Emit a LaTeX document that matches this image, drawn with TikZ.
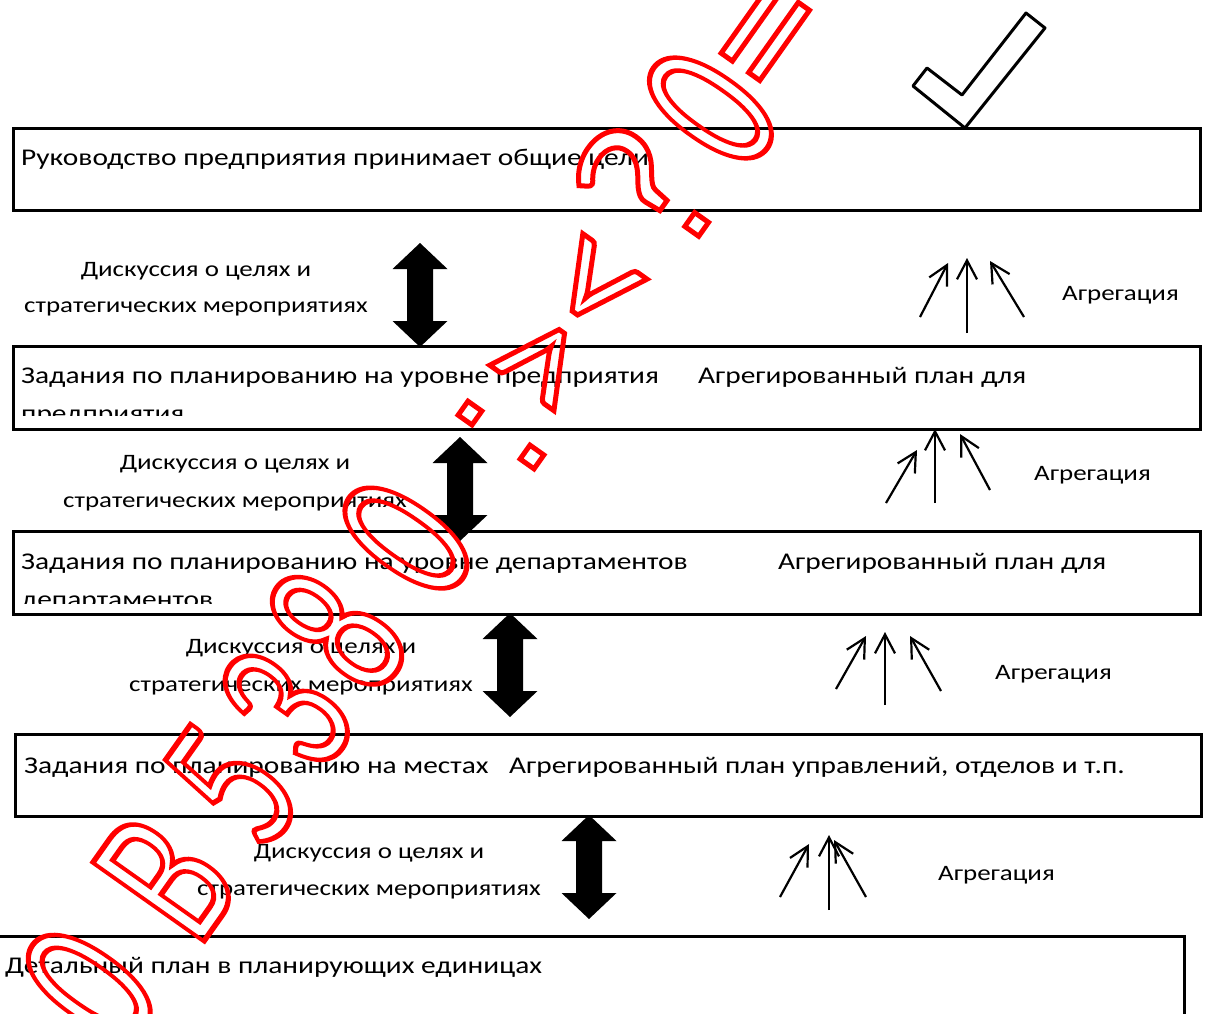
\documentclass[tikz,border=0pt]{standalone}
\usepackage{fontspec}
\setmainfont{Carlito}[FakeStretch=1.225]
\newfontfamily\wmfont{Carlito}
\usetikzlibrary{arrows.meta}

% outlined glyph: stroke only (PDF text render mode 1)
\newcommand\wmglyph[1]{\special{pdf:literal direct 1 Tr 5 w 1 0 0 RG}#1\special{pdf:literal direct 0 Tr}}
% narrow outlined glyph for letters and digits
\newcommand\wmnarrow[1]{\scalebox{0.7}[1]{\special{pdf:literal direct 1 Tr 5.5 w 1 0 0 RG}#1\special{pdf:literal direct 0 Tr}}}

\tikzset{
  box/.style={draw=black, line width=3bp, inner sep=0pt, anchor=north west},
  txt/.style={anchor=base west, inner sep=0pt, font=\fontsize{24bp}{28bp}\selectfont},
  lbl/.style={anchor=base, inner sep=0pt, font=\fontsize{22bp}{26bp}\selectfont},
  agglbl/.style={anchor=base west, inner sep=0pt, font=\fontsize{22bp}{26bp}\selectfont},
  agg/.style={line width=2.2bp, -{Straight Barb[length=19bp,width=20bp]}},
  dblarrow/.pic={\fill[black] (0,-52) -- (27.5,-26) -- (13,-26) -- (13,26) -- (27.5,26)
      -- (0,52) -- (-27.5,26) -- (-13,26) -- (-13,-26) -- (-27.5,-26) -- cycle;},
  wm/.style={anchor=base, inner sep=0pt, text=red, transform shape,
      font=\wmfont\fontsize{212bp}{212bp}\selectfont},
  wmsmall/.style={wm, font=\wmfont\fontsize{190bp}{190bp}\selectfont},
  wmdot/.style={draw=red, line width=5bp},
}

\begin{document}
\begin{tikzpicture}[x=1bp, y=-1bp]
\useasboundingbox (0,0) rectangle (1206,1014);
\clip (0,0) rectangle (1206,1014);

% planning levels
\node[box, minimum width=1187bp, minimum height=82bp] (b1) at (12,127) {};
\node[box, minimum width=1187bp, minimum height=83bp] (b2) at (12,345) {};
\node[box, minimum width=1187bp, minimum height=83bp] (b3) at (12,530) {};
\node[box, minimum width=1186bp, minimum height=82bp] (b4) at (14,733) {};
\node[box, minimum width=1193bp, minimum height=100bp] (b5) at (-10,935) {};

\node[txt] (t1) at (21,165) {Руководство предприятия принимает общие цели};
\node[txt] (t2a) at (21,383) {Задания по планированию на уровне предприятия};
\node[txt] (t2b) at (698,383) {Агрегированный план для};
\begin{scope}
  \clip (12,345) rectangle (1199,415);
  \node[txt] (t2c) at (21,421) {предприятия};
\end{scope}
\node[txt] (t3a) at (21,569) {Задания по планированию на уровне департаментов};
\node[txt] (t3b) at (778,569) {Агрегированный план для};
\begin{scope}
  \clip (12,530) rectangle (1199,603);
  \node[txt] (t3c) at (21,607) {департаментов};
\end{scope}
\node[txt] (t4a) at (24,773) {Задания по планированию на местах};
\node[txt] (t4b) at (509,773) {Агрегированный план управлений, отделов и т.п.};
\node[txt] (t5) at (5,973) {Детальный план в планирующих единицах};

% discussion between levels
\node[lbl] (d1a) at (196,276) {Дискуссия о целях и};
\node[lbl] (d1b) at (196,312) {стратегических мероприятиях};
\node[lbl] (d2a) at (235,469) {Дискуссия о целях и};
\node[lbl] (d2b) at (235,507) {стратегических мероприятиях};
\node[lbl] (d3a) at (301,653) {Дискуссия о целях и};
\node[lbl] (d3b) at (301,691) {стратегических мероприятиях};
\node[lbl] (d4a) at (369,858) {Дискуссия о целях и};
\node[lbl] (d4b) at (369,895) {стратегических мероприятиях};

\pic at (420,295) {dblarrow};
\pic at (460,489) {dblarrow};
\pic at (510,665) {dblarrow};
\pic at (589,867) {dblarrow};

% aggregation upwards
\node[agglbl] (g1) at (1062,300) {Агрегация};
\node[agglbl] (g2) at (1034,480) {Агрегация};
\node[agglbl] (g3) at (995,679) {Агрегация};
\node[agglbl] (g4) at (938,880) {Агрегация};

\coordinate (a1ls) at (920,317);  \coordinate (a1le) at (948,263);
\coordinate (a1cs) at (967,333);  \coordinate (a1ce) at (967,258);
\coordinate (a1rs) at (1024,317); \coordinate (a1re) at (990,261);
\coordinate (a2ls) at (886,503);  \coordinate (a2le) at (917,450);
\coordinate (a2cs) at (935,503);  \coordinate (a2ce) at (935,429);
\coordinate (a2rs) at (990,490);  \coordinate (a2re) at (960,434);
\coordinate (a3ls) at (836,689);  \coordinate (a3le) at (866,636);
\coordinate (a3cs) at (885,705);  \coordinate (a3ce) at (885,632);
\coordinate (a3rs) at (941,691);  \coordinate (a3re) at (910,636);
\coordinate (a4ls) at (780,897);  \coordinate (a4le) at (809,844);
\coordinate (a4cs) at (829,910);  \coordinate (a4ce) at (829,835);
\coordinate (a4rs) at (866,897);  \coordinate (a4re) at (834,840);
\foreach \g in {1,2,3,4}{
  \draw[agg] (a\g ls) -- (a\g le);
  \draw[agg] (a\g cs) -- (a\g ce);
  \draw[agg] (a\g rs) -- (a\g re);
}

% check mark
\draw[line width=3bp, line join=round] (965,128) -- (913,86) -- (927,68) -- (962,95)
  -- (1026,13) -- (1045,28) -- cycle;

% red outlined stamp across the sheet
\begin{scope}[shift={(532,457)}, rotate=54.7]
  \node[wm] (w1) at (-687,12) {\wmnarrow{0}};
  \node[wm] (w2) at (-555,12) {\wmnarrow{B}};
  \node[wm] (w3) at (-441,12) {\wmnarrow{5}};
  \node[wm] (w4) at (-348,12) {\wmnarrow{3}};
  \node[wm] (w5) at (-254,12) {\wmnarrow{8}};
  \node[wm] (w6) at (-139,12) {\wmnarrow{0}};
  % colon with square dots
  \draw[wmdot] (-8.5,-8.5) rectangle (8.5,8.5);
  \draw[wmdot] (-8.5,-84.5) rectangle (8.5,-67.5);
  \node[wmsmall] (w8) at (81,12) {\wmglyph{>}};
  \node[wmsmall] (w9) at (181,12) {\wmglyph{<}};
  % question mark: hook from the glyph, square dot drawn
  \begin{scope}
    \clip (180,-16) rectangle (400,-260);
    \node[wm] (w10) at (285,12) {\wmglyph{?}};
  \end{scope}
  \draw[wmdot] (276.5,-8.5) rectangle (293.5,8.5);
  \node[wm] (w11) at (388,12) {\wmnarrow{0}};
  \node[wm] (w12) at (482,12) {\wmglyph{=}};
\end{scope}
\end{tikzpicture}
\end{document}
